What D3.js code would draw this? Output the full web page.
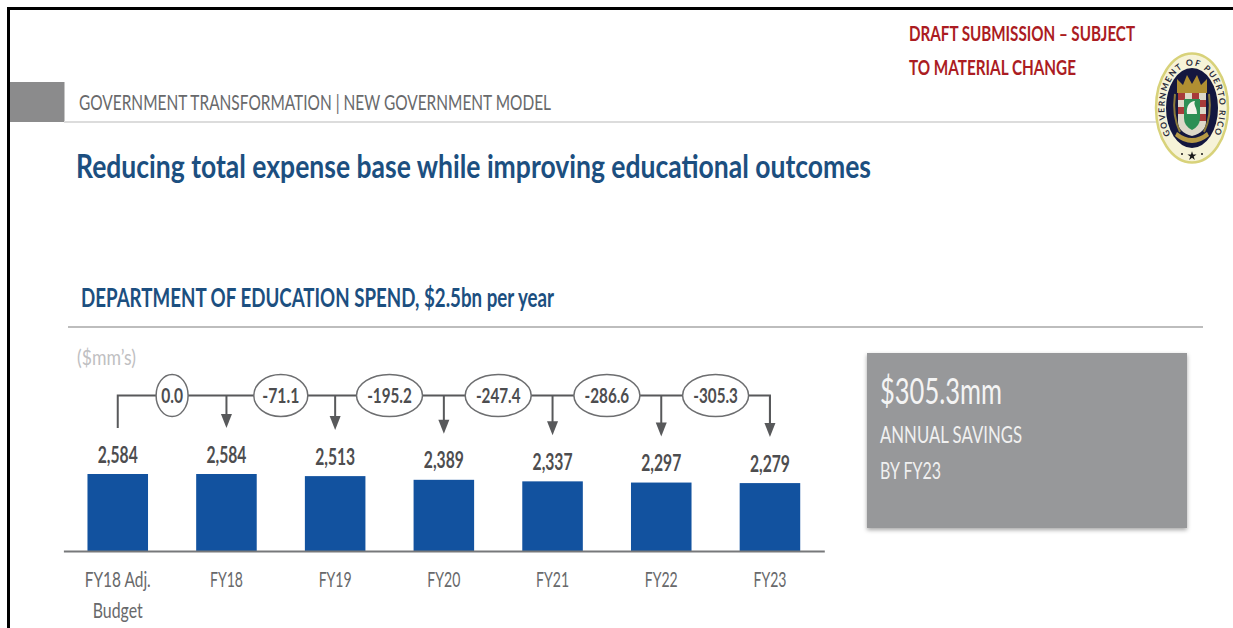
<!DOCTYPE html>
<html>
<head>
<meta charset="utf-8">
<title>Department of Education spend</title>
<script src="https://cdn.jsdelivr.net/npm/d3@7/dist/d3.min.js"></script>
<style>
  html, body { margin: 0; padding: 0; background: #fff; overflow: hidden; }
  svg { display: block; }
  text { font-family: Lato, "Open Sans", sans-serif; }
</style>
</head>
<body>
<svg id="chart" width="1233" height="628"></svg>
<script>
// Fiscal years, spend in $mm and the cumulative change against the adjusted budget
const categories = ["FY18 Adj.|Budget", "FY18", "FY19", "FY20", "FY21", "FY22", "FY23"];
const spend = [2584, 2584, 2513, 2389, 2337, 2297, 2279];
const savings = ["0.0", "-71.1", "-195.2", "-247.4", "-286.6", "-305.3"];
const savingsRadius = [16, 27, 33, 33, 33, 33];

const svg = d3.select("#chart");
const defs = svg.append("defs");

const ink = "#4d4d4f", muted = "#68696b", navy = "#1c4f80", barBlue = "#12529f";

// Text helper: the condensed house face is approximated by squeezing Lato to a set width
function label(parent, str, x, y, opts) {
  const t = parent.append("text")
    .attr("x", x).attr("y", y)
    .attr("font-size", opts.size)
    .attr("font-weight", opts.weight || 400)
    .attr("fill", opts.fill)
    .attr("text-anchor", opts.anchor || "start")
    .text(str);
  if (opts.width) t.attr("textLength", opts.width).attr("lengthAdjust", "spacingAndGlyphs");
  return t;
}

// Page frame
svg.append("path").attr("d", "M8.5,628V8.5H1233").attr("fill", "none").attr("stroke", "#000").attr("stroke-width", 3);

// Header band
svg.append("rect").attr("x", 10).attr("y", 82).attr("width", 54.5).attr("height", 40).attr("fill", "#8b8b8c");
svg.append("line").attr("x1", 64).attr("x2", 1160).attr("y1", 122).attr("y2", 122).attr("stroke", "#dcdcdc").attr("stroke-width", 2);
label(svg, "GOVERNMENT TRANSFORMATION | NEW GOVERNMENT MODEL", 79, 110, { size: 21, fill: muted, width: 472 });

// Draft notice
label(svg, "DRAFT SUBMISSION – SUBJECT", 909, 41, { size: 21, weight: 700, fill: "#ab1c22", width: 226 });
label(svg, "TO MATERIAL CHANGE", 909, 75, { size: 21, weight: 700, fill: "#ab1c22", width: 167 });

// Titles
label(svg, "Reducing total expense base while improving educational outcomes", 76, 178, { size: 33, weight: 700, fill: navy, width: 795 });
label(svg, "DEPARTMENT OF EDUCATION SPEND, $2.5bn per year", 81, 307, { size: 27, weight: 700, fill: navy, width: 473 });
svg.append("line").attr("x1", 68).attr("x2", 1203).attr("y1", 327).attr("y2", 327).attr("stroke", "#bdbdbd").attr("stroke-width", 2);
label(svg, "($mm’s)", 77, 365, { size: 22, fill: "#bfc0c2", width: 59 });

// Scales: bars stand on the axis and are proportional to spend
const x = d3.scaleBand().domain(categories).range([63.4, 824.3]).paddingInner(0.443).paddingOuter(0.2215);
const y = d3.scaleLinear().domain([0, 2584]).range([551, 474]);
const cx = (d) => x(d) + x.bandwidth() / 2;

const chart = svg.append("g");
const rows = categories.map((c, i) => ({ c, v: spend[i] }));

chart.selectAll("rect.bar").data(rows).join("rect")
  .attr("class", "bar")
  .attr("x", (d) => x(d.c))
  .attr("width", x.bandwidth())
  .attr("y", (d) => y(d.v))
  .attr("height", (d) => y(0) - y(d.v))
  .attr("fill", barBlue);

// Value labels
const fmt = d3.format(",");
chart.selectAll("text.value").data(rows).join("text")
  .attr("class", "value")
  .attr("x", (d) => cx(d.c))
  .attr("y", (d) => y(d.v) - 11.5)
  .attr("text-anchor", "middle")
  .attr("font-size", 22)
  .attr("font-weight", 700)
  .attr("fill", ink)
  .attr("textLength", 40)
  .attr("lengthAdjust", "spacingAndGlyphs")
  .text((d) => fmt(d.v));

// Category axis; a "|" in a category marks a line break
const axis = svg.append("g").attr("transform", `translate(0,${y(0)})`)
  .call(d3.axisBottom(x).tickSize(0).tickPadding(0).tickFormat(""));
axis.select(".domain").attr("stroke", "#77787a").attr("stroke-width", 2);
axis.selectAll(".tick text").each(function (d) {
  const parts = d.split("|");
  const t = d3.select(this).attr("y", 0).attr("dy", null)
    .attr("font-size", 22).attr("fill", muted).attr("font-family", "Lato");
  parts.forEach((p, i) => {
    t.append("tspan").attr("x", 0).attr("y", 36 + i * 31).text(p)
      .attr("textLength", p.length > 6 ? 66 : p.length > 4 ? 50 : 33)
      .attr("lengthAdjust", "spacingAndGlyphs");
  });
});

// Bridge above the bars: start stem, arrows down to each year, savings bubbles between
const bridgeY = 395.5, stroke = "#58595b";
const tipY = (v) => y(v) - 46;
chart.append("path")
  .attr("d", `M${cx(categories[0])},${tipY(spend[0])}V${bridgeY}H${cx(categories[6])}V${tipY(spend[6]) - 8}`)
  .attr("fill", "none").attr("stroke", stroke).attr("stroke-width", 2);

rows.slice(1).forEach((d) => {
  const ax = cx(d.c), tip = tipY(d.v);
  chart.append("line").attr("x1", ax).attr("x2", ax).attr("y1", bridgeY).attr("y2", tip - 8)
    .attr("stroke", stroke).attr("stroke-width", 2);
  chart.append("path").attr("d", `M${ax - 5.5},${tip - 14}H${ax + 5.5}L${ax},${tip}Z`).attr("fill", stroke);
});

savings.forEach((s, i) => {
  const mx = (cx(categories[i]) + cx(categories[i + 1])) / 2;
  chart.append("ellipse").attr("cx", mx).attr("cy", bridgeY).attr("rx", savingsRadius[i]).attr("ry", 21)
    .attr("fill", "#fff").attr("stroke", "#6d6e70").attr("stroke-width", 1.5);
  label(chart, s, mx, bridgeY + 7, { size: 21, weight: 700, fill: ink, anchor: "middle", width: s.length * 7.6 - 1 });
});

// Savings call-out panel
const soft = defs.append("filter").attr("id", "panelShadow").attr("x", "-5%").attr("y", "-5%").attr("width", "110%").attr("height", "115%");
soft.append("feDropShadow").attr("dx", 0).attr("dy", 2).attr("stdDeviation", 2).attr("flood-color", "#000").attr("flood-opacity", 0.35);
svg.append("rect").attr("x", 867).attr("y", 353).attr("width", 320).attr("height", 175).attr("fill", "#97989a").attr("filter", "url(#panelShadow)");
label(svg, "$305.3mm", 880, 404, { size: 37, fill: "#f4f4f4", width: 122 });
label(svg, "ANNUAL SAVINGS", 880, 443, { size: 23, fill: "#f0f0f0", width: 142 });
label(svg, "BY FY23", 880, 479, { size: 23, fill: "#f0f0f0", width: 61 });

// Government seal
const seal = svg.append("g").attr("transform", "translate(1192,108)");
seal.append("ellipse").attr("rx", 36).attr("ry", 54.5).attr("fill", "#f6f3d8").attr("stroke", "#d8d27a").attr("stroke-width", 2.5);
seal.append("ellipse").attr("rx", 26).attr("ry", 40).attr("fill", "#14173f");
defs.append("path").attr("id", "sealRim")
  .attr("d", "M0,42.5A27.5,42.5 0 1 1 0,-42.5A27.5,42.5 0 1 1 0,42.5");
seal.append("text").attr("font-size", 8.5).attr("font-weight", 700).attr("fill", "#2c2c3a").attr("letter-spacing", 1.4)
  .append("textPath").attr("href", "#sealRim").attr("startOffset", "50%").attr("text-anchor", "middle")
  .text("GOVERNMENT OF PUERTO RICO");
// Crown
seal.append("path").attr("d", "M-15,-15V-29L-9,-23L-5,-33L0,-24L5,-33L9,-23L15,-29V-15Z").attr("fill", "#b08f32");
// Shield with chequered border and green field
seal.append("path").attr("d", "M-14,-15H14V14Q14,24 0,28Q-14,24 -14,14Z").attr("fill", "#ddd8c8");
const cellsX = d3.range(-14, 14, 7), cellsY = d3.range(-15, 13, 7);
cellsY.forEach((cy, r) => cellsX.forEach((c, k) => {
  if ((r + k) % 2 === 0) seal.append("rect").attr("x", c).attr("y", cy).attr("width", 7).attr("height", 7).attr("fill", "#a83a3a");
}));
seal.append("path").attr("d", "M-8,-9H8V10Q8,18 0,22Q-8,18 -8,10Z").attr("fill", "#2c8f55");
seal.append("path").attr("d", "M-5,6C-6,-2 -2,-7 3,-7C1,-3 5,-1 5,6Z").attr("fill", "#f3f3ea");
// Supporters and scroll
seal.append("path").attr("d", "M-17,-14Q-20,8 -12,24M17,-14Q20,8 12,24").attr("fill", "none").attr("stroke", "#8a7a3a").attr("stroke-width", 2);
seal.append("path").attr("d", "M-17,28Q0,42 17,28L15,24Q0,36 -15,24Z").attr("fill", "#b79a45");
// Star and dots at the foot of the rim
seal.append("path").attr("d", d3.symbol(d3.symbolStar, 26)()).attr("transform", "translate(0,48)").attr("fill", "#1a1a1a");
seal.append("circle").attr("cx", -10).attr("cy", 46).attr("r", 1).attr("fill", "#1a1a1a");
seal.append("circle").attr("cx", 10).attr("cy", 46).attr("r", 1).attr("fill", "#1a1a1a");
</script>
</body>
</html>
